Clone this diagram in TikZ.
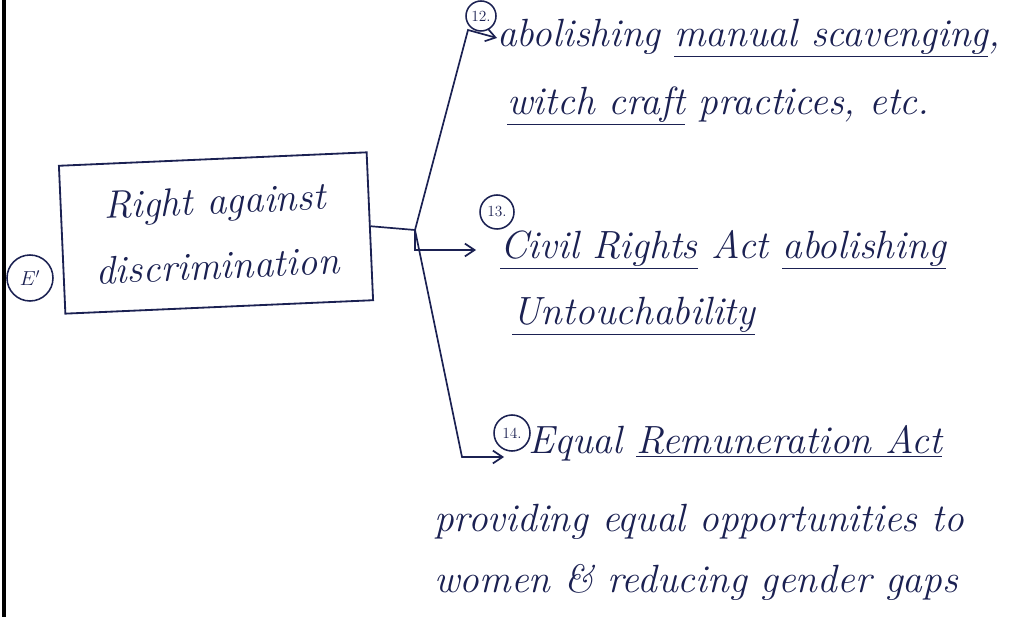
\documentclass[tikz,border=0pt]{standalone}
\usepackage{tikz}
\usetikzlibrary{arrows.meta}
\definecolor{ink}{HTML}{1B2152}

\begin{document}
\begin{tikzpicture}[x=0.25mm,y=-0.25mm,
    inkline/.style={draw=ink,line width=1.2pt},
    arr/.style={inkline,-{Straight Barb[length=2.4mm,width=3.2mm]}},
    num/.style={circle,draw=ink,line width=1.1pt,text=ink,inner sep=0pt,font=\fontsize{11}{12}\selectfont},
    hand/.style={text=ink,anchor=west,inner sep=0pt,font=\fontsize{28}{32}\selectfont\itshape}]

    \useasboundingbox (0,0) rectangle (1016,617);

    % margin of the page
    \draw[line width=3pt] (4,0) to (4,617);

    % main box
    \node[draw=ink,line width=1.3pt,text=ink,rotate=2.5,minimum width=77mm,minimum height=37mm,
          align=center,font=\fontsize{28}{46}\selectfont\itshape] (rad) at (216,233) {Right against\\discrimination};
    \node[num,minimum width=10mm,minimum height=11.5mm,font=\fontsize{14}{15}\selectfont] (ne) at (30,278) {$E'$};

    % fork
    \coordinate (fork) at (415,230);
    \draw[inkline] (rad.east) to (fork);

    % 12. manual scavenging
    \node[num,minimum size=7.5mm] (n12) at (481,16) {12.};
    \node[hand] (t12a) at (497,38) {abolishing \underline{manual scavenging},};
    \node[hand] (t12b) at (507,106) {\underline{witch craft} practices, etc.};
    \coordinate (up) at (468,30);
    \draw[arr] (fork) -- (up) -- (t12a.west);

    % 13. civil rights act
    \node[num,minimum size=8.5mm] (n13) at (497,212) {13.};
    \node[hand] (t13a) at (500,250) {\underline{Civil Rights} Act \underline{abolishing}};
    \node[hand] (t13b) at (512,316) {\underline{Untouchability}};
    \draw[arr,shorten >=6mm] (fork) |- (t13a.west);

    % 14. equal remuneration act
    \node[num,minimum size=9mm] (n14) at (512,433) {14.};
    \node[hand] (t14a) at (528,443) {Equal \underline{Remuneration Act}};
    \node[hand] (t14b) at (434,522) {providing equal opportunities to};
    \node[hand] (t14c) at (434,582) {women \& reducing gender gaps};
    \coordinate (low) at (462,457);
    \draw[arr,shorten >=6mm] (fork) -- (low) -- (low -| t14a.west);

\end{tikzpicture}
\end{document}
